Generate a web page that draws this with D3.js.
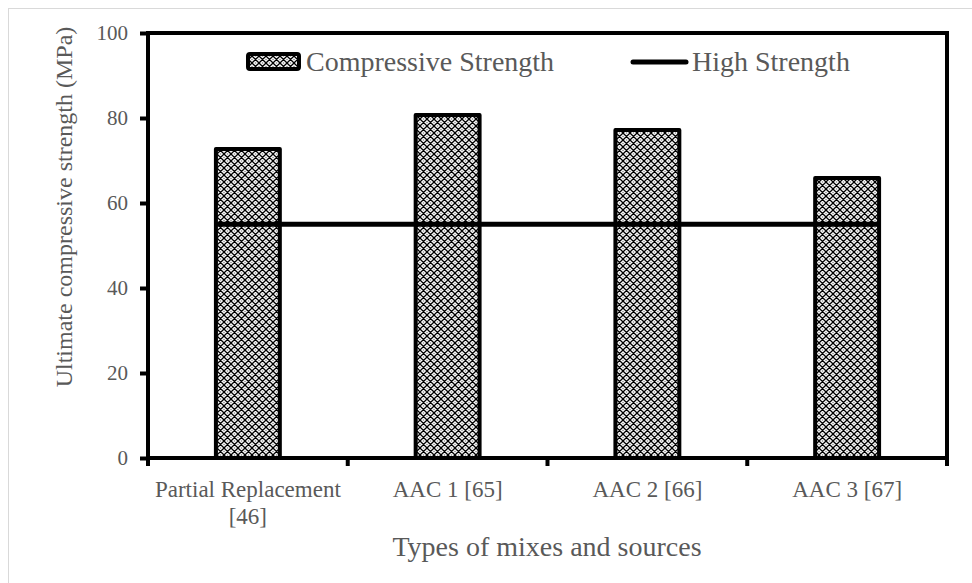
<!DOCTYPE html>
<html>
<head>
<meta charset="utf-8">
<script src="https://cdn.jsdelivr.net/npm/d3@7"></script>
<style>
  html, body { margin: 0; padding: 0; background: #fff; }
  text { font-family: "Liberation Serif", "Times New Roman", serif; fill: #595959; }
</style>
</head>
<body>
<svg id="chart" width="972" height="583"></svg>
<script>
// chart data
const categories = ['Partial Replacement [46]', 'AAC 1 [65]', 'AAC 2 [66]', 'AAC 3 [67]'];
const strengthValues = [72.7, 80.7, 77.2, 65.9];
const highStrength = [55, 55, 55, 55];
const yTicks = [0, 20, 40, 60, 80, 100];

const width = 972;
const height = 583;
const margin = { top: 33, right: 25, bottom: 125, left: 148 };

const svg = d3.select('#chart');

// outer chart-area frame
svg.append('rect')
  .attr('x', 8.5).attr('y', 8.5)
  .attr('width', width).attr('height', height)
  .attr('fill', 'none')
  .attr('stroke', '#d9d9d9');

// fill pattern for the bars (diamond lattice)
const defs = svg.append('defs');
const pat = defs.append('pattern')
  .attr('id', 'dots')
  .attr('patternUnits', 'userSpaceOnUse')
  .attr('width', 7).attr('height', 7);
pat.append('rect').attr('width', 7).attr('height', 7).attr('fill', '#fff');
pat.append('path')
  .attr('d', 'M0,0L7,7M7,0L0,7M-1,6L1,8M6,-1L8,1M-1,1L1,-1M6,8L8,6')
  .attr('stroke', '#000')
  .attr('stroke-width', 1.3);
pat.append('circle').attr('cx', 3.5).attr('cy', 0).attr('r', 0.8).attr('fill', '#888');
pat.append('circle').attr('cx', 0).attr('cy', 3.5).attr('r', 0.8).attr('fill', '#888');
pat.append('circle').attr('cx', 7).attr('cy', 3.5).attr('r', 0.8).attr('fill', '#888');
pat.append('circle').attr('cx', 3.5).attr('cy', 7).attr('r', 0.8).attr('fill', '#888');

const x = d3.scaleBand()
  .domain(categories)
  .range([margin.left, width - margin.right])
  .paddingInner(0.68)
  .paddingOuter(0.34);

const y = d3.scaleLinear()
  .domain([0, 100])
  .range([height - margin.bottom, margin.top]);

// category ticks sit on the band boundaries
const step = x.step();
const x0 = margin.left;
const boundaries = d3.range(categories.length + 1).map((i) => x0 + i * step);

const g = svg.append('g');

// bars
g.selectAll('rect.bar')
  .data(strengthValues)
  .enter()
  .append('rect')
  .attr('class', 'bar')
  .attr('x', (d, i) => x(categories[i]))
  .attr('y', (d) => y(d))
  .attr('width', x.bandwidth())
  .attr('height', (d) => y(0) - y(d))
  .attr('fill', 'url(#dots)')
  .attr('stroke', '#000')
  .attr('stroke-width', 4)
  .attr('stroke-linejoin', 'round');

// high strength line, spans from first bar's left edge to last bar's right edge
const linePts = highStrength.map((d, i) => {
  let px = x(categories[i]) + x.bandwidth() / 2;
  if (i === 0) px = x(categories[i]) + 3;
  if (i === highStrength.length - 1) px = x(categories[i]) + x.bandwidth() - 3;
  return [px, y(d)];
});
g.append('path')
  .attr('d', d3.line()(linePts))
  .attr('fill', 'none')
  .attr('stroke', '#000')
  .attr('stroke-width', 5)
  .attr('stroke-linecap', 'round');

// plot frame
svg.append('rect')
  .attr('x', margin.left).attr('y', margin.top)
  .attr('width', width - margin.right - margin.left)
  .attr('height', y(0) - margin.top)
  .attr('fill', 'none')
  .attr('stroke', '#000')
  .attr('stroke-width', 4);

// y axis
const yAxis = svg.append('g')
  .attr('transform', `translate(${margin.left},0)`)
  .call(d3.axisLeft(y).tickValues(yTicks).tickSize(8).tickPadding(12));
yAxis.select('.domain').remove();
yAxis.selectAll('.tick line').attr('stroke', '#000').attr('stroke-width', 4);
yAxis.selectAll('.tick text')
  .attr('fill', '#595959')
  .style('font-family', '"Liberation Serif", serif')
  .style('font-size', '21px');

// x axis ticks at boundaries
svg.append('g')
  .selectAll('line')
  .data(boundaries)
  .enter()
  .append('line')
  .attr('x1', (d) => d).attr('x2', (d) => d)
  .attr('y1', y(0)).attr('y2', y(0) + 8)
  .attr('stroke', '#000')
  .attr('stroke-width', 4);

// x labels (wrap after "Replacement")
const xLab = svg.append('g');
categories.forEach((c, i) => {
  const cx = x(c) + x.bandwidth() / 2;
  const parts = c === 'Partial Replacement [46]' ? ['Partial Replacement', '[46]'] : [c];
  const t = xLab.append('text')
    .attr('x', cx)
    .attr('y', 497)
    .attr('text-anchor', 'middle')
    .style('font-size', '23px');
  parts.forEach((p, j) => {
    t.append('tspan').attr('x', cx).attr('dy', j === 0 ? 0 : 27).text(p);
  });
});

// axis titles
svg.append('text')
  .attr('x', 547)
  .attr('y', 556)
  .attr('text-anchor', 'middle')
  .style('font-size', '28px')
  .text('Types of mixes and sources');

svg.append('text')
  .attr('transform', 'translate(72, 207) rotate(-90)')
  .attr('text-anchor', 'middle')
  .style('font-size', '24px')
  .text('Ultimate compressive strength (MPa)');

// legend
const leg = svg.append('g');
leg.append('rect')
  .attr('x', 248).attr('y', 54)
  .attr('width', 51).attr('height', 15)
  .attr('rx', 2)
  .attr('fill', 'url(#dots)')
  .attr('stroke', '#000')
  .attr('stroke-width', 4);
leg.append('text')
  .attr('x', 306).attr('y', 71)
  .style('font-size', '28px')
  .text('Compressive Strength');
leg.append('line')
  .attr('x1', 633).attr('x2', 686)
  .attr('y1', 62).attr('y2', 62)
  .attr('stroke', '#000')
  .attr('stroke-width', 5)
  .attr('stroke-linecap', 'round');
leg.append('text')
  .attr('x', 692).attr('y', 71)
  .style('font-size', '28px')
  .text('High Strength');
</script>
</body>
</html>
